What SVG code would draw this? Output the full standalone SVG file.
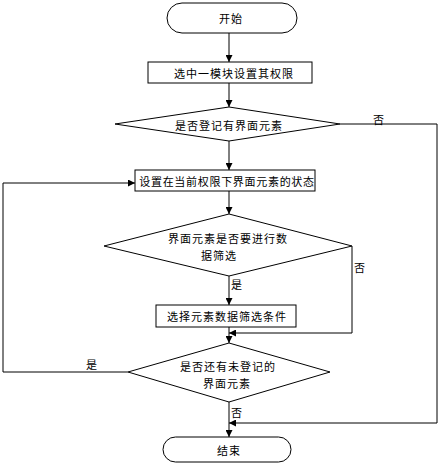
<svg xmlns="http://www.w3.org/2000/svg" width="440" height="468" viewBox="0 0 440 468">
<defs>
<marker id="arr" viewBox="0 0 8 8" refX="8" refY="4" markerWidth="7" markerHeight="7" markerUnits="userSpaceOnUse" orient="auto">
<path d="M0,0 L8,4 L0,8 Z" fill="#000"/>
</marker>
<style>
.s{fill:#fff;stroke:#000;stroke-width:1}
.t{font-family:"Noto Sans CJK SC","Noto Sans CJK JP",sans-serif;font-size:11px;letter-spacing:1px;fill:#000;text-anchor:middle;dominant-baseline:central}
.l{font-family:"Noto Sans CJK SC","Noto Sans CJK JP",sans-serif;font-size:11px;fill:#000;text-anchor:start;dominant-baseline:central}
.c{fill:none;stroke:#000;stroke-width:1}
</style>
</defs>
<rect width="440" height="468" fill="#fff"/>
<g id="connectors">
<line class="c" x1="229" y1="33" x2="229" y2="62" marker-end="url(#arr)"/>
<line class="c" x1="229" y1="83" x2="229" y2="107" marker-end="url(#arr)"/>
<line class="c" x1="229" y1="141" x2="229" y2="170" marker-end="url(#arr)"/>
<line class="c" x1="229" y1="191" x2="229" y2="214" marker-end="url(#arr)"/>
<line class="c" x1="229" y1="276" x2="229" y2="305" marker-end="url(#arr)"/>
<line class="c" x1="229" y1="327" x2="229" y2="343" marker-end="url(#arr)"/>
<line class="c" x1="229" y1="402" x2="229" y2="437" marker-end="url(#arr)"/>
<polyline class="c" points="352,246 352,333 229,333" marker-end="url(#arr)"/>
<polyline class="c" points="128,372 3,372 3,183 135,183" marker-end="url(#arr)"/>
<polyline class="c" points="340,124 437,124 437,423 229,423" marker-end="url(#arr)"/>
<text class="l" x="373" y="119">否</text>
<text class="l" x="354" y="267">否</text>
<text class="l" x="231" y="284">是</text>
<text class="l" x="86" y="364">是</text>
<text class="l" x="231" y="412">否</text>
</g>
<g id="start">
<rect class="s" x="167" y="3" width="130" height="30" rx="15"/>
<text class="t" x="231" y="18">开始</text>
</g>
<g id="select">
<rect class="s" x="148" y="62" width="164" height="21"/>
<text class="t" x="234" y="73">选中一模块设置其权限</text>
</g>
<g id="d1">
<polygon class="s" points="115,124 229,107 340,124 229,141"/>
<text class="t" x="229" y="125">是否登记有界面元素</text>
</g>
<g id="setstate">
<rect class="s" x="135" y="170" width="180" height="21"/>
<text class="t" x="227" y="181" style="letter-spacing:0.7px">设置在当前权限下界面元素的状态</text>
</g>
<g id="d2">
<polygon class="s" points="104,246 229,214 352,246 229,276"/>
<text class="t" x="228" y="238">界面元素是否要进行数</text>
<text class="t" x="219" y="255">据筛选</text>
</g>
<g id="filter">
<rect class="s" x="156" y="305" width="140" height="22"/>
<text class="t" x="227" y="316">选择元素数据筛选条件</text>
</g>
<g id="d3">
<polygon class="s" points="128,372 229,343 330,372 229,402"/>
<text class="t" x="228" y="366">是否还有未登记的</text>
<text class="t" x="227" y="383">界面元素</text>
</g>
<g id="end">
<rect class="s" x="163" y="437" width="128" height="25" rx="12.5"/>
<text class="t" x="229" y="450">结束</text>
</g>
</svg>
